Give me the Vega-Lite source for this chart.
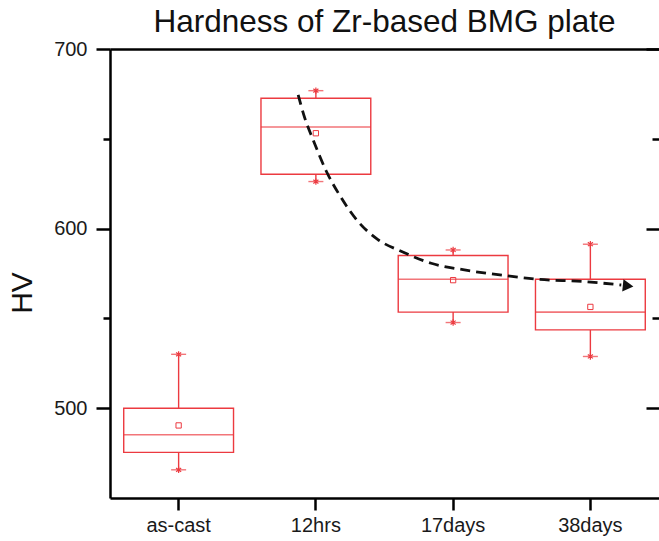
{
  "$schema": "https://vega.github.io/schema/vega-lite/v6.json",
  "width": 549,
  "height": 449,
  "autosize": {"type": "none"},
  "padding": {"left": 110, "top": 49, "right": 0, "bottom": 43},
  "background": "white",
  "title": {
    "text": "Hardness of Zr-based BMG plate",
    "font": "Liberation Sans",
    "fontSize": 31.5,
    "fontWeight": "normal",
    "color": "#111111",
    "anchor": "middle",
    "baseline": "bottom",
    "offset": 9,
    "dy": 40
  },
  "config": {
    "view": {"stroke": null},
    "font": "Liberation Sans"
  },
  "datasets": {
    "boxes": [
      {"group": "as-cast", "lo": 465.7, "q1": 475.4, "med": 485.2, "q3": 500.0, "hi": 530.0, "mean": 490.4},
      {"group": "12hrs", "lo": 626.2, "q1": 630.3, "med": 656.6, "q3": 672.6, "hi": 676.8, "mean": 653.1},
      {"group": "17days", "lo": 547.7, "q1": 553.5, "med": 571.8, "q3": 585.0, "hi": 588.1, "mean": 571.3},
      {"group": "38days", "lo": 528.8, "q1": 543.6, "med": 553.5, "q3": 571.8, "hi": 591.3, "mean": 556.4}
    ],
    "trend": [
      {"cx": 1.871, "cy": 674.4},
      {"cx": 1.920, "cy": 661.4},
      {"cx": 1.980, "cy": 649.4},
      {"cx": 2.077, "cy": 631.8},
      {"cx": 2.186, "cy": 617.0},
      {"cx": 2.307, "cy": 604.0},
      {"cx": 2.452, "cy": 593.9},
      {"cx": 2.621, "cy": 587.4},
      {"cx": 2.840, "cy": 580.7},
      {"cx": 3.082, "cy": 577.0},
      {"cx": 3.397, "cy": 573.7},
      {"cx": 3.614, "cy": 571.8},
      {"cx": 3.954, "cy": 570.5},
      {"cx": 4.225, "cy": 568.6}
    ],
    "arrowhead": [
      {"cx": 4.275, "cy": 568.1}
    ]
  },
  "layer": [
    {
      "data": {"name": "boxes"},
      "encoding": {
        "x": {
          "field": "group",
          "type": "nominal",
          "sort": ["as-cast", "12hrs", "17days", "38days"],
          "scale": {"paddingInner": 0, "paddingOuter": 0},
          "axis": {
            "orient": "bottom",
            "title": null,
            "bandPosition": 0.5,
            "labelAngle": 0,
            "labelFont": "Liberation Sans",
            "labelFontSize": 20,
            "labelColor": "#1a1a1a",
            "labelPadding": 5,
            "tickSize": 12,
            "tickWidth": 2.5,
            "tickColor": "#000000",
            "domainWidth": 2.5,
            "domainColor": "#000000",
            "grid": false
          }
        },
        "y": {
          "field": "lo",
          "type": "quantitative",
          "scale": {"domain": [450, 700], "nice": false, "zero": false},
          "axis": {
            "orient": "left",
            "values": [500, 550, 600, 650, 700],
            "labelExpr": "datum.value % 100 === 0 ? datum.label : ''",
            "title": "HV",
            "titleFont": "Liberation Sans",
            "titleFontSize": 30,
            "titleFontWeight": "normal",
            "titleColor": "#111111",
            "titleAngle": 270,
            "titleAlign": "center",
            "titleBaseline": "middle",
            "titleX": -87.5,
            "titleY": 243.5,
            "labelFont": "Liberation Sans",
            "labelFontSize": 20,
            "labelColor": "#1a1a1a",
            "labelPadding": 9,
            "tickSize": {"condition": {"test": "datum.value % 100 !== 0", "value": 7}, "value": 14},
            "tickWidth": 2.5,
            "tickColor": "#000000",
            "domainWidth": 2.5,
            "domainColor": "#000000",
            "grid": false
          }
        },
        "y2": {"field": "hi"}
      },
      "layer": [
        {"mark": {"type": "rule", "color": "#ec3a40", "strokeWidth": 1.4}},
        {
          "mark": {"type": "rect", "fill": "white", "stroke": "#ec3a40", "strokeWidth": 1.4, "width": {"band": 0.8}},
          "encoding": {"y": {"field": "q1", "type": "quantitative"}, "y2": {"field": "q3"}}
        },
        {
          "mark": {"type": "tick", "color": "#ec3a40", "size": 110, "thickness": 1.6},
          "encoding": {"y": {"field": "med", "type": "quantitative"}, "y2": null}
        },
        {
          "mark": {"type": "tick", "color": "#ec3a40", "size": 15, "thickness": 1.4},
          "encoding": {"y": {"field": "lo", "type": "quantitative"}, "y2": null}
        },
        {
          "mark": {"type": "tick", "color": "#ec3a40", "size": 15, "thickness": 1.4},
          "encoding": {"y": {"field": "hi", "type": "quantitative"}, "y2": null}
        },
        {
          "mark": {"type": "point", "shape": "M0,-1L0,1M-0.8,-0.6L0.8,0.6M-0.8,0.6L0.8,-0.6", "size": 40, "filled": false, "stroke": "#ec3a40", "strokeWidth": 1.2, "opacity": 1},
          "encoding": {"y": {"field": "lo", "type": "quantitative"}, "y2": null}
        },
        {
          "mark": {"type": "point", "shape": "M0,-1L0,1M-0.8,-0.6L0.8,0.6M-0.8,0.6L0.8,-0.6", "size": 40, "filled": false, "stroke": "#ec3a40", "strokeWidth": 1.2, "opacity": 1},
          "encoding": {"y": {"field": "hi", "type": "quantitative"}, "y2": null}
        },
        {
          "mark": {"type": "point", "shape": "square", "size": 28, "filled": false, "stroke": "#ec3a40", "strokeWidth": 1, "opacity": 1},
          "encoding": {"y": {"field": "mean", "type": "quantitative"}, "y2": null}
        }
      ]
    },
    {
      "data": {"name": "trend"},
      "encoding": {
        "x": {
          "field": "cx",
          "type": "quantitative",
          "scale": {"domain": [0.5, 4.5], "nice": false, "zero": false},
          "axis": {
            "orient": "top",
            "title": null,
            "labels": false,
            "ticks": false,
            "grid": false,
            "domainWidth": 2.5,
            "domainColor": "#000000"
          }
        },
        "y": {
          "field": "cy",
          "type": "quantitative",
          "axis": {
            "orient": "right",
            "title": null,
            "values": [500, 550, 600, 650, 700],
            "labels": false,
            "domain": false,
            "grid": false,
            "tickSize": {"condition": {"test": "datum.value % 100 !== 0", "value": -7}, "value": -13},
            "tickWidth": 2.5,
            "tickColor": "#000000"
          }
        }
      },
      "layer": [
        {
          "mark": {"type": "line", "color": "#111111", "strokeWidth": 2.8, "strokeDash": [10, 6], "interpolate": "monotone"}
        },
        {
          "data": {"name": "arrowhead"},
          "mark": {"type": "point", "shape": "triangle-right", "size": 150, "filled": true, "color": "#111111", "opacity": 1, "angle": 6}
        }
      ]
    }
  ],
  "resolve": {
    "scale": {"x": "independent"},
    "axis": {"x": "independent", "y": "independent"}
  }
}
